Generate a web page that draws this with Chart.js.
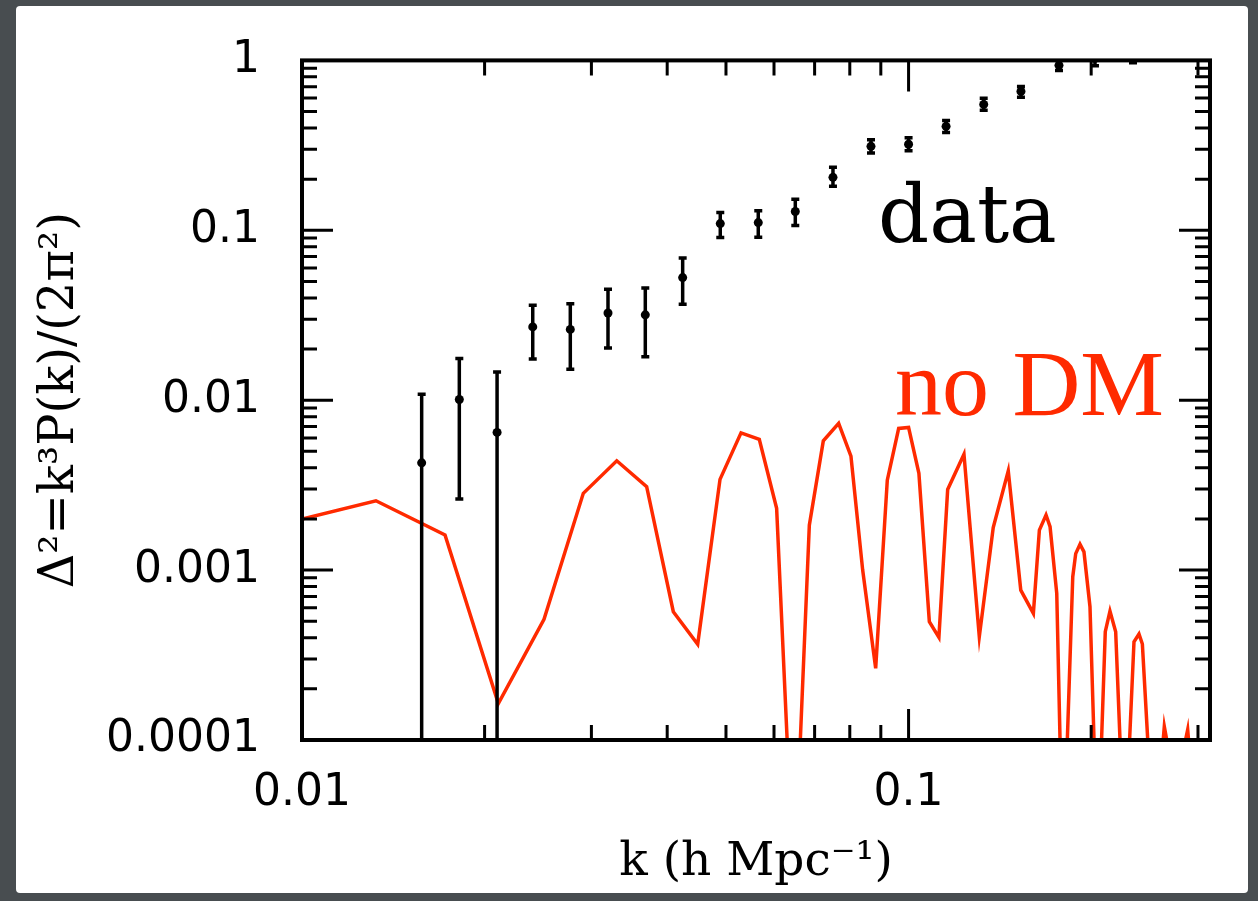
<!DOCTYPE html>
<html><head><meta charset="utf-8">
<script src="https://cdn.jsdelivr.net/npm/chart.js@4/dist/chart.umd.min.js"></script>
<style>html,body{margin:0;padding:0;background:#484d50;overflow:hidden}#c{display:block}</style>
</head><body>
<canvas id="c" width="1258" height="901"></canvas>
<script>
// ---- data ----
const dataK   = [0.01575,0.01817,0.02097,0.02401,0.02769,0.03195,0.03681,0.04242,0.04893,0.05652,0.06505,0.07505,0.08670,0.1000,0.1153,0.1330,0.1532,0.1770,0.2029,0.2344];
const dataVal = [0.00428,0.0101,0.00646,0.0270,0.0261,0.0326,0.0318,0.0527,0.1095,0.111,0.129,0.205,0.312,0.321,0.409,0.551,0.657,0.935,1.03,1.08];
const dataLo  = [0.00001,0.00262,0.00001,0.0175,0.0152,0.0203,0.0180,0.0367,0.0906,0.0909,0.1066,0.1815,0.285,0.2936,0.377,0.508,0.606,0.873,0.93,0.97];
const dataHi  = [0.01084,0.0176,0.01467,0.0362,0.0370,0.0450,0.0458,0.0687,0.1271,0.1305,0.1521,0.235,0.3415,0.350,0.4436,0.598,0.703,1.01,1.12,1.18];

const noDmK = [0.0100,0.01324,0.01721,0.02107,0.02506,0.02909,0.03303,0.03700,0.04094,0.04491,0.04888,0.05294,0.05674,0.06060,0.06473,0.06861,0.07235,0.07669,0.08035,0.08401,0.08826,0.09224,0.09631,0.1000,0.1040,0.1082,0.1122,0.1160,0.1234,0.1308,0.1379,0.1460,0.1531,0.1606,0.1643,0.1685,0.1711,0.1755,0.1797,0.1865,0.1886,0.1917,0.1946,0.1991,0.2049,0.2110,0.2148,0.2195,0.2270,0.2353,0.2398,0.2429,0.2539,0.2640,0.2754,0.2885,0.2977];
const noDmVal = [0.00200,0.00256,0.00161,0.000164,0.000513,0.00283,0.00440,0.00310,0.000569,0.000366,0.00342,0.00642,0.00588,0.00231,0.000013,0.00184,0.00576,0.00730,0.00469,0.00100,0.000264,0.00338,0.00682,0.00691,0.00371,0.000497,0.000402,0.00298,0.00481,0.000406,0.00178,0.00384,0.000762,0.000556,0.00172,0.00211,0.00180,0.000730,0.000017,0.000914,0.00125,0.00142,0.00128,0.000609,0.0000206,0.000434,0.000574,0.000434,0.0000216,0.000379,0.000421,0.000367,0.000022,0.000120,0.000052,0.000115,0.00003];

const xMajorTicks  = [0.01, 0.1];
const xMajorLabels = ['0.01', '0.1'];
const xMinorTicks  = [0.02,0.03,0.04,0.05,0.06,0.07,0.08,0.09,0.2,0.3];
const yMajorTicks  = [0.0001, 0.001, 0.01, 0.1, 1];
const yMajorLabels = ['0.0001', '0.001', '0.01', '0.1', '1'];
const yMinorTicks  = [2e-4,3e-4,4e-4,5e-4,6e-4,7e-4,8e-4,9e-4,2e-3,3e-3,4e-3,5e-3,6e-3,7e-3,8e-3,9e-3,0.02,0.03,0.04,0.05,0.06,0.07,0.08,0.09,0.2,0.3,0.4,0.5,0.6,0.7,0.8,0.9];

const xTitle = 'k (h Mpc\u207B\u00B9)';
const yTitle = '\u0394\u00B2=k\u00B3P(k)/(2\u03C0\u00B2)';
const notes = [
  {text: 'data',  k: 0.08906, v: 0.0850,  color: '#000000', font: '80px "DejaVu Serif"'},
  {text: 'no DM', k: 0.09497, v: 0.00816, color: '#ff2a00', font: '94px "Liberation Serif"'}
];

const RED = '#ff2a00';

const bgPlugin = {
  id: 'bg',
  beforeDraw(chart) {
    const ctx = chart.ctx;
    ctx.save();
    ctx.fillStyle = '#484d50';
    ctx.fillRect(0, 0, chart.width, chart.height);
    ctx.fillStyle = '#ffffff';
    ctx.beginPath();
    ctx.roundRect(16, 6, 1232, 887, 4);
    ctx.fill();
    ctx.restore();
  }
};

const errPlugin = {
  id: 'errbars',
  afterDatasetsDraw(chart) {
    const {ctx, chartArea: a, scales: {x, y}} = chart;
    ctx.save();
    ctx.beginPath();
    ctx.rect(a.left, a.top, a.right - a.left, a.bottom - a.top);
    ctx.clip();
    ctx.strokeStyle = '#000';
    ctx.lineWidth = 3.5;
    dataK.forEach((k, i) => {
      const px = x.getPixelForValue(k);
      const lo = y.getPixelForValue(dataLo[i]);
      const hi = y.getPixelForValue(dataHi[i]);
      ctx.beginPath();
      ctx.moveTo(px, lo); ctx.lineTo(px, hi);
      ctx.moveTo(px - 4, lo); ctx.lineTo(px + 4, lo);
      ctx.moveTo(px - 4, hi); ctx.lineTo(px + 4, hi);
      ctx.stroke();
    });
    ctx.restore();
  }
};

const framePlugin = {
  id: 'frame',
  afterDraw(chart) {
    const {ctx, chartArea: a, scales: {x, y}} = chart;
    ctx.save();
    ctx.strokeStyle = '#000';
    ctx.lineWidth = 3;
    const xt = (vals, len) => vals.forEach(v => {
      const p = x.getPixelForValue(v);
      ctx.beginPath();
      ctx.moveTo(p, a.bottom); ctx.lineTo(p, a.bottom - len);
      ctx.moveTo(p, a.top); ctx.lineTo(p, a.top + len);
      ctx.stroke();
    });
    const yt = (vals, len) => vals.forEach(v => {
      const p = y.getPixelForValue(v);
      ctx.beginPath();
      ctx.moveTo(a.left, p); ctx.lineTo(a.left + len, p);
      ctx.moveTo(a.right, p); ctx.lineTo(a.right - len, p);
      ctx.stroke();
    });
    xt(xMajorTicks, 31); xt(xMinorTicks, 15);
    yt(yMajorTicks, 31); yt(yMinorTicks, 15);
    ctx.lineWidth = 4;
    ctx.strokeRect(a.left, a.top, a.right - a.left, a.bottom - a.top);
    // annotations
    ctx.textAlign = 'left';
    ctx.textBaseline = 'alphabetic';
    notes.forEach(n => {
      ctx.font = n.font;
      ctx.fillStyle = n.color;
      ctx.fillText(n.text, x.getPixelForValue(n.k), y.getPixelForValue(n.v));
    });
    ctx.restore();
  }
};

new Chart(document.getElementById('c'), {
  type: 'scatter',
  data: {
    datasets: [
      {
        label: 'data',
        data: dataK.map((k, i) => ({x: k, y: dataVal[i]})),
        pointRadius: 4.5,
        pointBackgroundColor: '#000',
        pointBorderWidth: 0,
        clip: 0
      },
      {
        label: 'no DM',
        data: noDmK.map((k, i) => ({x: k, y: noDmVal[i]})),
        showLine: true,
        borderColor: RED,
        borderWidth: 3.5,
        pointRadius: 0,
        tension: 0,
        clip: 0
      }
    ]
  },
  options: {
    responsive: false,
    devicePixelRatio: 1,
    animation: false,
    events: [],
    layout: {padding: {left: 0, right: 48, top: 60, bottom: 0}},
    plugins: {legend: {display: false}, tooltip: {enabled: false}},
    scales: {
      x: {
        type: 'logarithmic',
        min: 0.01, max: 0.314,
        grid: {display: false},
        border: {display: false},
        afterBuildTicks: s => { s.ticks = xMajorTicks.map(v => ({value: v})); },
        afterFit: s => { s.height = 161; },
        ticks: {
          autoSkip: false, maxRotation: 0, minRotation: 0, padding: 19,
          color: '#000',
          font: {family: '"DejaVu Sans"', size: 44},
          callback: (v, i) => xMajorLabels[i]
        },
        title: {
          display: true, text: xTitle, color: '#000',
          font: {family: '"DejaVu Serif"', size: 47},
          padding: {top: 0, bottom: 10}
        }
      },
      y: {
        type: 'logarithmic',
        min: 0.0001, max: 1,
        grid: {display: false},
        border: {display: false},
        afterBuildTicks: s => { s.ticks = yMajorTicks.map(v => ({value: v})); },
        afterFit: s => { s.width = 302; },
        ticks: {
          autoSkip: false, padding: 34,
          color: '#000',
          font: {family: '"DejaVu Sans"', size: 44},
          callback: (v, i) => yMajorLabels[i]
        },
        title: {
          display: true, text: yTitle, color: '#000',
          font: {family: '"DejaVu Serif"', size: 48},
          padding: {top: 32, bottom: 0}
        }
      }
    }
  },
  plugins: [bgPlugin, errPlugin, framePlugin]
});
</script>
</body></html>
